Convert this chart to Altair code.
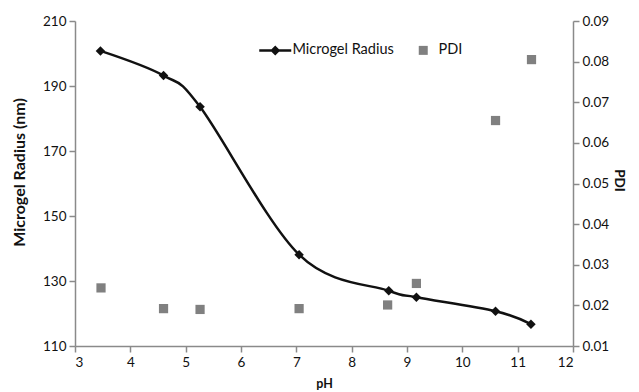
import altair as alt
import pandas as pd

ph_radius = [3.46, 4.60, 5.26, 7.05, 8.67, 9.17, 10.60, 11.24]
radius = [200.8, 193.2, 183.6, 138.1, 127.0, 125.0, 120.7, 116.7]
ph_pdi = [3.47, 4.60, 5.26, 7.05, 8.65, 9.17, 10.60, 11.25]
pdi = [0.0243, 0.0192, 0.0190, 0.0192, 0.0201, 0.0254, 0.0655, 0.0805]
series = ["Microgel Radius", "PDI"]
x_ticks = [3, 4, 5, 6, 7, 8, 9, 10, 11, 12]
left_ticks = [110, 130, 150, 170, 190, 210]
right_ticks = [0.01, 0.02, 0.03, 0.04, 0.05, 0.06, 0.07, 0.08, 0.09]

rad_df = pd.DataFrame({"pH": ph_radius, "radius": radius})
pdi_df = pd.DataFrame({"pH": ph_pdi, "pdi": pdi})
leg_df = pd.DataFrame({"series": series})

FONT = "Lato"
BLACK = "#111111"
GRAY = "#808080"
TEXT = "#111111"

# legend symbol paths (line with diamond, square)
radius_path = "M-4.8,-0.25L1.6,-0.25L1.6,0.25L-4.8,0.25Z M-1.6,-1L-0.6,0L-1.6,1L-2.6,0Z"
pdi_path = "M-2.1,-0.9L-0.3,-0.9L-0.3,0.9L-2.1,0.9Z"

x_enc = alt.X(
    "pH:Q",
    scale=alt.Scale(domain=[3, 12], nice=False, zero=False),
    axis=alt.Axis(title="pH", values=x_ticks, format="d", titlePadding=9, titleFontSize=12.5),
)

y_left = alt.Y(
    "radius:Q",
    scale=alt.Scale(domain=[110, 210], nice=False, zero=False),
    axis=alt.Axis(
        title="Microgel Radius (nm)",
        values=left_ticks,
        orient="left",
        titlePadding=15,
        titleFontSize=16,
        titleY=151,
    ),
)

line = alt.Chart(rad_df).mark_line(
    interpolate="cardinal", color=BLACK, strokeWidth=2.5
).encode(x=x_enc, y=y_left)

diamonds = alt.Chart(rad_df).mark_point(
    shape="diamond", filled=True, color=BLACK, size=90, opacity=1
).encode(x=x_enc, y=y_left)

left = alt.layer(line, diamonds)

squares = alt.Chart(pdi_df).mark_point(
    shape="square", filled=True, color=GRAY, size=85, opacity=1
).encode(
    x=x_enc,
    y=alt.Y(
        "pdi:Q",
        scale=alt.Scale(domain=[0.01, 0.09], nice=False, zero=False),
        axis=alt.Axis(
            title="PDI",
            values=right_ticks,
            format=".2f",
            orient="right",
            titlePadding=3,
            titleFontSize=13.5,
            titleY=159,
        ),
    ),
)

legend_layer = alt.Chart(leg_df).mark_point(filled=True, opacity=0).encode(
    color=alt.Color(
        "series:N",
        scale=alt.Scale(domain=series, range=[BLACK, GRAY]),
        legend=alt.Legend(
            title=None,
            orient="none",
            legendX=201,
            legendY=22,
            direction="horizontal",
            symbolSize=100,
            symbolOpacity=1,
            symbolStrokeWidth=0,
            labelOffset=2,
            columnPadding=24,
            padding=0,
            labelFont=FONT,
            labelFontSize=14.5,
            labelColor=TEXT,
        ),
    ),
    shape=alt.Shape(
        "series:N",
        scale=alt.Scale(domain=series, range=[radius_path, pdi_path]),
        legend=None,
    ),
)

chart = (
    alt.layer(left, squares, legend_layer)
    .resolve_scale(y="independent")
    .properties(
        width=498,
        height=325,
        autosize=alt.AutoSizeParams(type="none"),
        padding={"left": 67, "top": 13, "right": 58, "bottom": 46},
        background="white",
    )
    .configure_view(stroke=None)
    .configure_axis(
        grid=False,
        domainColor="#8a8a8a",
        domainWidth=1.5,
        tickColor="#8a8a8a",
        tickWidth=1.5,
        tickSize=6,
        labelFont=FONT,
        labelFontSize=13.5,
        labelColor=TEXT,
        labelPadding=3,
        titleFont=FONT,
        titleFontSize=12.5,
        titleFontWeight="bold",
        titleColor=TEXT,
    )
)

chart.save("out.html", embed_options={"renderer": "svg", "actions": False})
